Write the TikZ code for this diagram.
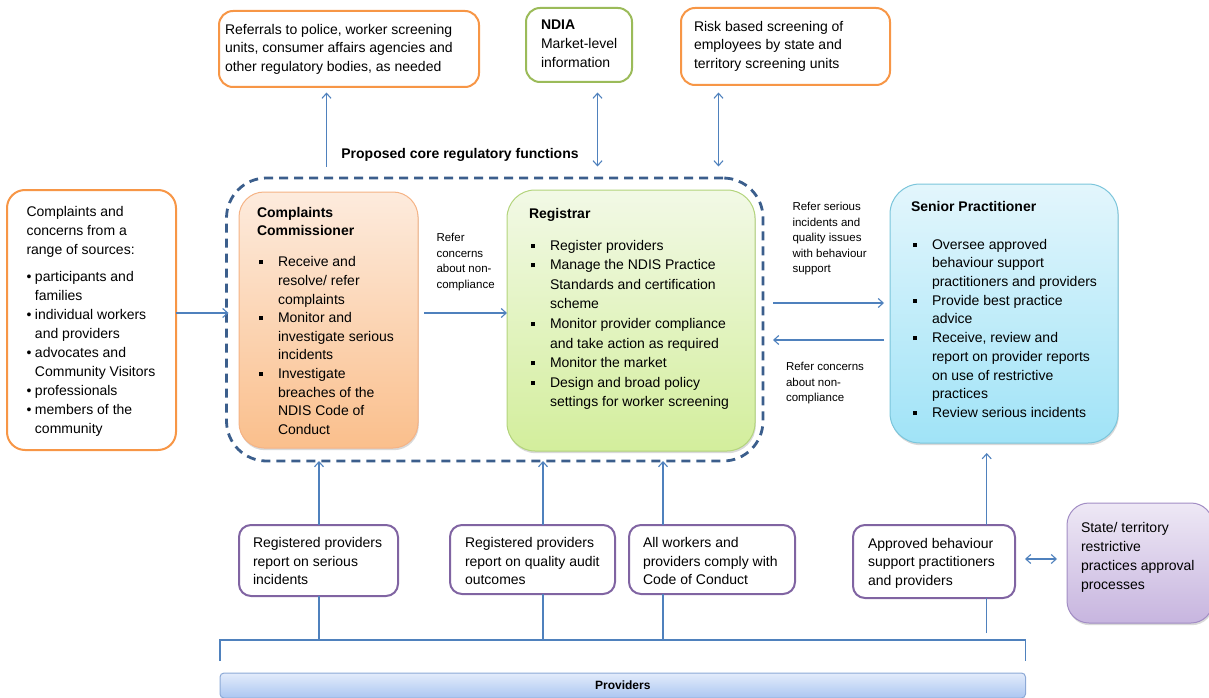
\documentclass[tikz,border=0pt]{standalone}
\usepackage{fontspec}
\setmainfont{Liberation Sans}
\usetikzlibrary{arrows.meta,shadows}

\definecolor{orangeline}{HTML}{F79646}
\definecolor{greenline}{HTML}{9BBB59}
\definecolor{purpleline}{HTML}{8064A2}
\definecolor{connblue}{HTML}{4F81BD}
\definecolor{frameblue}{HTML}{3B5E8C}
\definecolor{cctop}{HTML}{FDEBDD}
\definecolor{ccbot}{HTML}{FABF8C}
\definecolor{ccline}{HTML}{F5B385}
\definecolor{regtop}{HTML}{F2F9E6}
\definecolor{regbot}{HTML}{D3EE9C}
\definecolor{regline}{HTML}{B3D47C}
\definecolor{sentop}{HTML}{E3F6FC}
\definecolor{senbot}{HTML}{A0E3F7}
\definecolor{senline}{HTML}{7BC5DB}
\definecolor{sttop}{HTML}{EEE8F5}
\definecolor{stbot}{HTML}{C7B5DF}
\definecolor{stline}{HTML}{A28DC4}
\definecolor{provtop}{HTML}{E3ECFB}
\definecolor{provbot}{HTML}{ABC6F1}
\definecolor{provline}{HTML}{8CA9D6}

% list markers with hanging indentation
\newcommand{\sqbul}{\makebox[21pt][l]{\hspace{1.5pt}\raisebox{2.4pt}{\rule{4pt}{4pt}}}}
\newcommand{\sqind}{\makebox[21pt][l]{}}
\newcommand{\dotbul}{\makebox[8.5pt][l]{•}}
\newcommand{\dotind}{\makebox[8.5pt][l]{}}

\begin{document}
\begin{tikzpicture}[x=1pt,y=-1pt,
  box/.style={rectangle, anchor=north west, inner sep=0pt, outer sep=0pt},
  obox/.style={box, draw=orangeline, line width=2pt, rounded corners=14pt, fill=white},
  gbox/.style={box, draw=greenline, line width=2pt, rounded corners=14pt, fill=white},
  pbox/.style={box, draw=purpleline, line width=2pt, rounded corners=12pt, fill=white},
  shbox/.style={box, line width=1pt, drop shadow={shadow xshift=0.8pt, shadow yshift=-2.2pt, opacity=0.3}},
  txt/.style={anchor=north west, inner sep=0pt, outer sep=0pt, align=left, font=\fontsize{14}{19}\selectfont},
  small/.style={anchor=north west, inner sep=0pt, outer sep=0pt, align=left, font=\fontsize{11.5}{15.5}\selectfont},
  conn/.style={draw=connblue, line width=1.1pt},
  tip/.style={-{Straight Barb[length=5pt,width=9pt]}},
  tips/.style={{Straight Barb[length=5pt,width=9pt]}-{Straight Barb[length=5pt,width=9pt]}}
]
\useasboundingbox (0,0) rectangle (1209,698);

% ---------- external bodies along the top ----------
\node[obox, minimum width=260pt, minimum height=76pt] (ref) at (219,11) {};
\node[txt, font=\fontsize{14}{18.5}\selectfont] (refT) at (225,24)
  {Referrals to police, worker screening\\units, consumer affairs agencies and\\other regulatory bodies, as needed};

\node[gbox, minimum width=106pt, minimum height=74pt] (ndia) at (526,8) {};
\node[txt] (ndiaT) at (541,20) {\textbf{NDIA}\\Market-level\\information};

\node[obox, minimum width=209pt, minimum height=77pt] (risk) at (681,8) {};
\node[txt, font=\fontsize{14}{18.5}\selectfont] (riskT) at (694,21)
  {Risk based screening of\\employees by state and\\territory screening units};

\node[anchor=center, inner sep=0pt, font=\bfseries\fontsize{14}{17}\selectfont] (title) at (460,155)
  {Proposed core regulatory functions};

% ---------- core regulatory functions ----------
\node[box, draw=frameblue, line width=2.8pt, dash pattern=on 9pt off 6pt, rounded corners=40pt,
      minimum width=536.5pt, minimum height=283pt] (core) at (226.5,178) {};

\node[shbox, draw=ccline, top color=cctop, bottom color=ccbot, rounded corners=25pt,
      minimum width=179pt, minimum height=256pt] (cc) at (239,192) {};
\node[txt, font=\fontsize{14}{18.6}\selectfont] (ccT) at (257,207)
  {\textbf{Complaints}\\\textbf{Commissioner}\\[12.5pt]
   \sqbul Receive and\\\sqind resolve/ refer\\\sqind complaints\\
   \sqbul Monitor and\\\sqind investigate serious\\\sqind incidents\\
   \sqbul Investigate\\\sqind breaches of the\\\sqind NDIS Code of\\\sqind Conduct};

\node[shbox, draw=regline, top color=regtop, bottom color=regbot, rounded corners=28pt,
      minimum width=248pt, minimum height=261pt] (reg) at (507,190) {};
\node[txt, font=\fontsize{14}{19.6}\selectfont] (regT) at (529,208)
  {\textbf{Registrar}\\[12.4pt]
   \sqbul Register providers\\
   \sqbul Manage the NDIS Practice\\\sqind Standards and certification\\\sqind scheme\\
   \sqbul Monitor provider compliance\\\sqind and take action as required\\
   \sqbul Monitor the market\\
   \sqbul Design and broad policy\\\sqind settings for worker screening};

% ---------- senior practitioner ----------
\node[shbox, draw=senline, top color=sentop, bottom color=senbot, rounded corners=30pt,
      minimum width=228pt, minimum height=259pt] (sen) at (890,184) {};
\node[txt, font=\fontsize{14}{18.7}\selectfont] (senT) at (911,201)
  {\textbf{Senior Practitioner}\\[19.3pt]
   \sqbul Oversee approved\\\sqind behaviour support\\\sqind practitioners and providers\\
   \sqbul Provide best practice\\\sqind advice\\
   \sqbul Receive, review and\\\sqind report on provider reports\\\sqind on use of restrictive\\\sqind practices\\
   \sqbul Review serious incidents};

% ---------- sources of complaints ----------
\node[obox, rounded corners=18pt, minimum width=169pt, minimum height=260pt] (src) at (7,190) {};
\node[txt] (srcT) at (26.5,206)
  {Complaints and\\concerns from a\\range of sources:\\[8pt]
   \dotbul participants and\\\dotind families\\
   \dotbul individual workers\\\dotind and providers\\
   \dotbul advocates and\\\dotind Community Visitors\\
   \dotbul professionals\\
   \dotbul members of the\\\dotind community};

% ---------- provider obligations ----------
\node[pbox, minimum width=159pt, minimum height=71pt] (b1) at (239,525) {};
\node[txt, font=\fontsize{14}{18.5}\selectfont] (b1T) at (253,537.7)
  {Registered providers\\report on serious\\incidents};
\node[pbox, minimum width=165pt, minimum height=69pt] (b2) at (450,525) {};
\node[txt, font=\fontsize{14}{18.5}\selectfont] (b2T) at (465,537.7)
  {Registered providers\\report on quality audit\\outcomes};
\node[pbox, minimum width=166pt, minimum height=69pt] (b3) at (629,525) {};
\node[txt, font=\fontsize{14}{18.5}\selectfont] (b3T) at (643,537.7)
  {All workers and\\providers comply with\\Code of Conduct};
\node[pbox, minimum width=162pt, minimum height=73pt] (b4) at (853,525) {};
\node[txt, font=\fontsize{14}{18.5}\selectfont] (b4T) at (868,538)
  {Approved behaviour\\support practitioners\\and providers};

\node[shbox, draw=stline, top color=sttop, bottom color=stbot, rounded corners=22pt,
      minimum width=146pt, minimum height=120pt] (state) at (1067,503) {};
\node[txt] (stateT) at (1081,522)
  {State/ territory\\restrictive\\practices approval\\processes};

\node[box, draw=provline, line width=1pt, top color=provtop, bottom color=provbot, rounded corners=4pt,
      minimum width=805.5pt, minimum height=25pt, font=\bfseries\fontsize{12}{14}\selectfont] (prov) at (220,673) {Providers};

% ---------- connectors ----------
\coordinate (refFoot) at (326.5,166.5);
\coordinate (ndiaFoot) at (597.5,166.5);
\coordinate (riskFoot) at (718.5,166.5);
\draw[conn, tip, shorten >=5.5pt] (refFoot) -- (refFoot |- ref.south);
\draw[conn, tips, shorten >=10.5pt] (ndiaFoot) -- (ndiaFoot |- ndia.south);
\draw[conn, tips, shorten >=7.5pt] (riskFoot) -- (riskFoot |- risk.south);

\draw[conn, tip, shorten >=-2pt] ([yshift=7pt]src.east) -- ([yshift=7pt]src.east -| core.west);
\draw[conn, tip, shorten <=6pt] ([yshift=7pt]cc.east) -- ([yshift=7pt]cc.east -| reg.west);
\draw[conn, tip, shorten <=10pt, shorten >=6pt] ([yshift=16.5pt]core.east) -- ([yshift=16.5pt]core.east -| sen.west);
\draw[conn, tip, shorten <=6pt, shorten >=10pt] ([yshift=-20.5pt]core.east -| sen.west) -- ([yshift=-20.5pt]core.east);

\node[small] (lblA) at (436.5,233.5) {Refer\\concerns\\about non-\\compliance};
\node[small] (lblB) at (792.5,202.5) {Refer serious\\incidents and\\quality issues\\with behaviour\\support};
\node[small] (lblC) at (786,362.5) {Refer concerns\\about non-\\compliance};

% bracket over the providers bar
\coordinate (brk) at ([yshift=33pt]prov.north west);
\draw[conn] ([yshift=12pt]prov.north west) -- (brk) -- ([yshift=33pt]prov.north east) -- ([yshift=12pt]prov.north east);

\coordinate (c1) at (319,640);
\coordinate (c2) at (543,640);
\coordinate (c3) at (663,640);
\coordinate (c4) at (986.7,633);
\draw[conn] (c1) -- (c1 |- b1.south);
\draw[conn, tip] (c1 |- b1.north) -- (c1 |- core.south);
\draw[conn] (c2) -- (c2 |- b2.south);
\draw[conn, tip] (c2 |- b2.north) -- (c2 |- core.south);
\draw[conn] (c3) -- (c3 |- b3.south);
\draw[conn, tip] (c3 |- b3.north) -- (c3 |- core.south);
\draw[conn] (c4) -- (c4 |- b4.south);
\draw[conn, tip, shorten >=10pt] (c4 |- b4.north) -- (c4 |- sen.south);

\draw[conn, tips, shorten <=10pt, shorten >=10pt] ([yshift=2.5pt]b4.east) -- ([yshift=2.5pt]b4.east -| state.west);
\end{tikzpicture}
\end{document}
